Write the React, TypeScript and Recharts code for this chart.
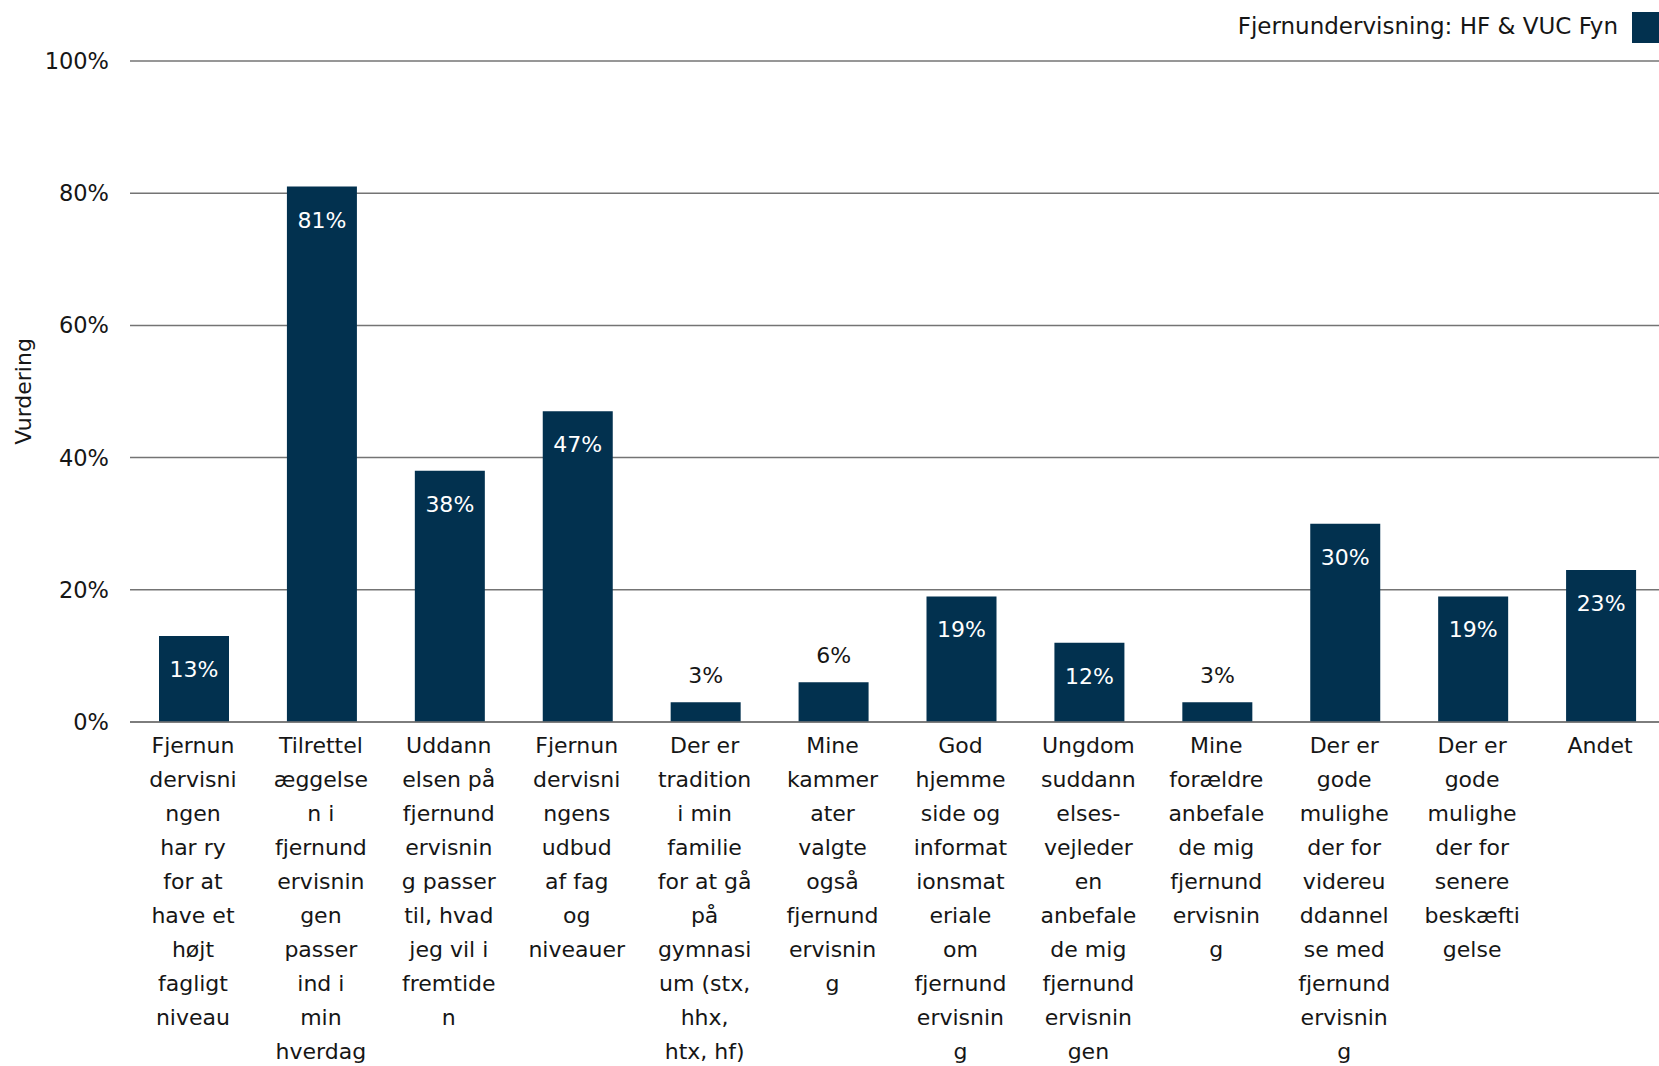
import { Bar, BarChart, CartesianGrid, LabelList, XAxis, YAxis } from 'recharts'

document.body.style.margin = '0'

const FONT = '"DejaVu Sans", Verdana, sans-serif'
const TEXT = '#161616'
const NAVY = '#02314f'
const GRID = '#747474'

const seriesName = 'Fjernundervisning: HF & VUC Fyn'
const axisTitle = 'Vurdering'

// category labels, broken into lines the same way the original wraps them
const categories = [
  'Fjernun\ndervisni\nngen\nhar ry\nfor at\nhave et\nhøjt\nfagligt\nniveau',
  'Tilrettel\næggelse\nn i\nfjernund\nervisnin\ngen\npasser\nind i\nmin\nhverdag',
  'Uddann\nelsen på\nfjernund\nervisnin\ng passer\ntil, hvad\njeg vil i\nfremtide\nn',
  'Fjernun\ndervisni\nngens\nudbud\naf fag\nog\nniveauer',
  'Der er\ntradition\ni min\nfamilie\nfor at gå\npå\ngymnasi\num (stx,\nhhx,\nhtx, hf)',
  'Mine\nkammer\nater\nvalgte\nogså\nfjernund\nervisnin\ng',
  'God\nhjemme\nside og\ninformat\nionsmat\neriale\nom\nfjernund\nervisnin\ng',
  'Ungdom\nsuddann\nelses-\nvejleder\nen\nanbefale\nde mig\nfjernund\nervisnin\ngen',
  'Mine\nforældre\nanbefale\nde mig\nfjernund\nervisnin\ng',
  'Der er\ngode\nmulighe\nder for\nvidereu\nddannel\nse med\nfjernund\nervisnin\ng',
  'Der er\ngode\nmulighe\nder for\nsenere\nbeskæfti\ngelse',
  'Andet',
]
const shares = [13, 81, 38, 47, 3, 6, 19, 12, 3, 30, 19, 23]
const yTicks = [0, 20, 40, 60, 80, 100]

const data = categories.map((label, i) => ({ label, value: shares[i] }))

function CategoryTick({ x, y, payload }: any) {
  const lines = String(payload.value).split('\n')
  return (
    <text x={x - 1} y={y} textAnchor="middle" fill={TEXT} fontSize={22} fontFamily={FONT}>
      {lines.map((line, i) => (
        <tspan key={i} x={x - 1} dy={i === 0 ? 31 : 34}>
          {line}
        </tspan>
      ))}
    </text>
  )
}

function ValueLabel({ x, y, width, height, value }: any) {
  const inside = height > 50
  return (
    <text
      x={x + width / 2}
      y={inside ? y + 41 : y - 19}
      textAnchor="middle"
      fill={inside ? '#ffffff' : TEXT}
      fontSize={22}
      fontFamily={FONT}
    >
      {value}%
    </text>
  )
}

function AxisTitle({ viewBox }: any) {
  const cy = viewBox.y + viewBox.height / 2
  return (
    <text x={31} y={cy} transform={`rotate(-90 31 ${cy})`} textAnchor="middle" fill={TEXT} fontSize={22} fontFamily={FONT}>
      {axisTitle}
    </text>
  )
}

export default function App() {
  return (
    <div style={{ position: 'relative', width: 1659, height: 1066, overflow: 'hidden', background: '#fff' }}>
      <div
        style={{
          position: 'absolute',
          top: 12,
          right: -4,
          display: 'flex',
          alignItems: 'center',
          gap: 14,
          fontFamily: FONT,
          fontSize: 23,
          color: TEXT,
        }}
      >
        <span style={{ marginTop: -3 }}>{seriesName}</span>
        <span style={{ width: 31, height: 31, background: NAVY, display: 'inline-block' }} />
      </div>
      <BarChart width={1665} height={1066} data={data} margin={{ top: 61, right: 0, bottom: 0, left: 0 }}>
        <CartesianGrid vertical={false} stroke={GRID} strokeWidth={1.5} />
        <XAxis
          dataKey="label"
          interval={0}
          height={344}
          tickLine={false}
          tickSize={0}
          tickMargin={0}
          axisLine={{ stroke: GRID, strokeWidth: 1.5 }}
          tick={<CategoryTick />}
        />
        <YAxis
          domain={[0, 100]}
          ticks={yTicks}
          tickFormatter={(v) => `${v}%`}
          axisLine={false}
          tickLine={false}
          tickSize={0}
          tickMargin={21}
          width={130}
          tick={{ fill: TEXT, fontSize: 22.5, fontFamily: FONT }}
          label={{ content: <AxisTitle /> }}
        />
        <Bar dataKey="value" fill={NAVY} barSize={70} isAnimationActive={false}>
          <LabelList dataKey="value" content={<ValueLabel />} />
        </Bar>
      </BarChart>
    </div>
  )
}
